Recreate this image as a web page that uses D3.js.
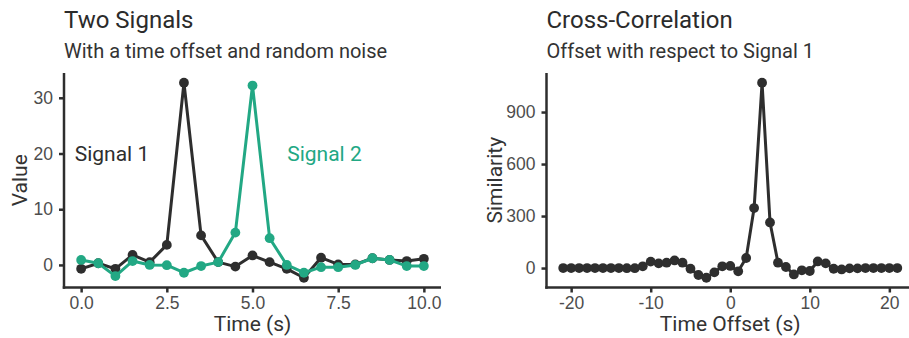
<!DOCTYPE html>
<html lang="en">
<head>
  <meta charset="utf-8">
  <script src="https://d3js.org/d3.v7.min.js"></script>
  <style>
    body { margin: 0; background: #fff; }
    svg { font-family: Roboto, "Noto Sans", sans-serif; display: block; }
    .title { font-size: 24px; fill: #2b2b2b; }
    .subtitle { font-size: 20px; fill: #333; }
    .axis-title { font-size: 21px; fill: #333; }
    .tick text { font-size: 17.5px; fill: #4d4d4d; }
  </style>
</head>
<body>
  <div id="chart"></div>
  <script>
    // signal data
    var time = [0, 0.5, 1, 1.5, 2, 2.5, 3, 3.5, 4, 4.5, 5, 5.5, 6, 6.5, 7, 7.5, 8, 8.5, 9, 9.5, 10];
    var signal1 = [-0.7, 0.3, -0.7, 1.8, 0.5, 3.6, 32.7, 5.3, 0.5, -0.3, 1.7, 0.5, -0.7, -2.3, 1.3, 0.1, 0.1, 1.2, 0.9, 0.7, 1.1];
    var signal2 = [0.9, 0.3, -2.0, 0.7, 0.0, -0.05, -1.4, -0.2, 0.5, 5.8, 32.2, 4.8, 0.0, -1.4, -0.4, -0.4, 0.0, 1.2, 0.9, -0.2, -0.2];

    // cross-correlation by lag
    var lags = d3.range(-21, 22);
    var similarity = [0, 0, 0, 0, 0, 0, 0, 0, -1, -1, 10, 37, 27, 31, 44, 31, -4, -40, -56, -25, 10, 12, -19, 58, 346, 1069, 263, 31, 6, -37, -13, -17, 38, 27, -4, -8, -2, -2, 0, 0, 0, 0, 0];

    var leftTicks = [0, 2.5, 5, 7.5, 10];
    var leftYTicks = [0, 10, 20, 30];
    var rightTicks = [-20, -10, 0, 10, 20];
    var rightYTicks = [0, 300, 600, 900];

    var signalLabels = [
      { text: "Signal 1", x: 0.9, y: 20, series: 0 },
      { text: "Signal 2", x: 7.1, y: 20, series: 1 }
    ];

    var dark = "#2e2e2e";
    var teal = "#22a884";

    var width = 909, height = 338;
    var svg = d3.select("#chart").append("svg")
      .attr("width", width)
      .attr("height", height);

    // expand domain by 5% like ggplot
    function expand(ext) {
      var pad = (ext[1] - ext[0]) * 0.05;
      return [ext[0] - pad, ext[1] + pad];
    }

    // plain hyphen for negatives, like the reference
    var intFmt = function (d) { return String(d); };
    var oneDec = function (d) { return d.toFixed(1); };

    function panel(opts) {
      var x = d3.scaleLinear().domain(expand(opts.xExtent)).range([opts.left, opts.right]);
      var y = d3.scaleLinear().domain(expand(opts.yExtent)).range([opts.bottom, opts.top]);

      svg.append("text").attr("class", "title")
        .attr("x", opts.left).attr("y", 28).text(opts.title);
      svg.append("text").attr("class", "subtitle")
        .attr("x", opts.left).attr("y", 58).text(opts.subtitle);

      var xAxis = svg.append("g")
        .attr("transform", "translate(0," + opts.bottom + ")")
        .call(d3.axisBottom(x).tickValues(opts.xTicks).tickFormat(opts.xFormat).tickSize(5).tickPadding(4));
      var yAxis = svg.append("g")
        .attr("transform", "translate(" + opts.left + ",0)")
        .call(d3.axisLeft(y).tickValues(opts.yTicks).tickFormat(intFmt).tickSize(5).tickPadding(6));

      [xAxis, yAxis].forEach(function (g) {
        g.select(".domain").attr("stroke", dark).attr("stroke-width", 2.5);
        g.selectAll(".tick line").attr("stroke", dark).attr("stroke-width", 2.5);
      });
      xAxis.select(".domain").attr("d", "M" + (opts.left - 1.25) + ",0H" + opts.right);
      yAxis.select(".domain").attr("d", "M0," + (opts.bottom + 1.25) + "V" + opts.top);

      svg.append("text").attr("class", "axis-title")
        .attr("x", (opts.left + opts.right) / 2).attr("y", 331)
        .attr("text-anchor", "middle").text(opts.xTitle);
      svg.append("text").attr("class", "axis-title")
        .attr("transform", "translate(" + opts.yTitleX + "," + ((opts.top + opts.bottom) / 2) + ") rotate(-90)")
        .attr("text-anchor", "middle").text(opts.yTitle);

      return { x: x, y: y };
    }

    function drawSeries(sc, xs, ys, color) {
      var pts = xs.map(function (d, i) { return [d, ys[i]]; });
      var line = d3.line()
        .x(function (d) { return sc.x(d[0]); })
        .y(function (d) { return sc.y(d[1]); });
      var g = svg.append("g");
      g.append("path").datum(pts)
        .attr("d", line).attr("fill", "none")
        .attr("stroke", color).attr("stroke-width", 3)
        .attr("stroke-linejoin", "round");
      g.selectAll("circle").data(pts).enter().append("circle")
        .attr("cx", function (d) { return sc.x(d[0]); })
        .attr("cy", function (d) { return sc.y(d[1]); })
        .attr("r", 4.9).attr("fill", color);
    }

    var left = panel({
      left: 64, right: 441, top: 73, bottom: 287.5,
      xExtent: d3.extent(time),
      yExtent: [d3.min(signal1.concat(signal2)), d3.max(signal1.concat(signal2))],
      xTicks: leftTicks, yTicks: leftYTicks, xFormat: oneDec,
      title: "Two Signals", subtitle: "With a time offset and random noise",
      xTitle: "Time (s)", yTitle: "Value", yTitleX: 27
    });
    drawSeries(left, time, signal1, dark);
    drawSeries(left, time, signal2, teal);

    svg.selectAll(".signal-label").data(signalLabels).enter().append("text")
      .attr("class", "signal-label")
      .attr("x", function (d) { return left.x(d.x); })
      .attr("y", function (d) { return left.y(d.y); })
      .attr("dy", "0.35em")
      .attr("text-anchor", "middle")
      .style("font-size", "21px")
      .attr("fill", function (d) { return d.series === 0 ? dark : teal; })
      .text(function (d) { return d.text; });

    var right = panel({
      left: 546.5, right: 914, top: 73, bottom: 287.5,
      xExtent: d3.extent(lags),
      yExtent: d3.extent(similarity),
      xTicks: rightTicks, yTicks: rightYTicks, xFormat: intFmt,
      title: "Cross-Correlation", subtitle: "Offset with respect to Signal 1",
      xTitle: "Time Offset (s)", yTitle: "Similarity", yTitleX: 502
    });
    drawSeries(right, lags, similarity, dark);
  </script>
</body>
</html>
